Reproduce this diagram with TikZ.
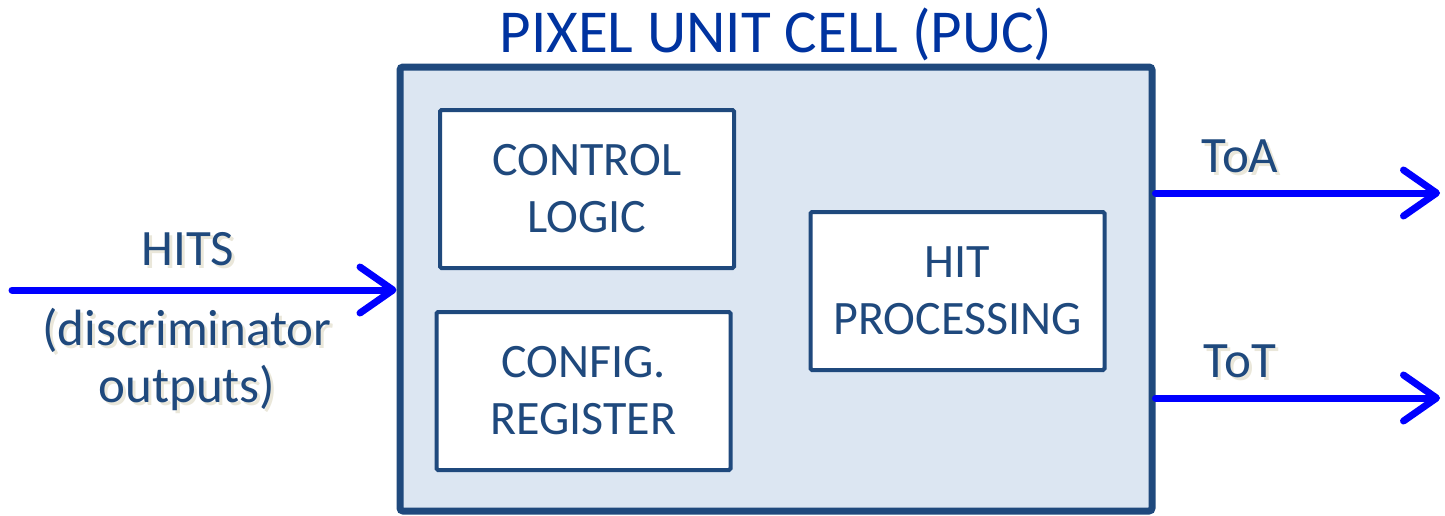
\documentclass[tikz,border=0pt]{standalone}
\usepackage{fontspec}
\setmainfont{Carlito}
\usepackage{xcolor}
\usetikzlibrary{arrows.meta}
\definecolor{pucline}{RGB}{31,73,125}
\definecolor{pucfill}{RGB}{220,230,242}
\definecolor{titleblue}{RGB}{0,51,160}
\definecolor{sigblue}{RGB}{0,0,255}
\definecolor{shadowcol}{RGB}{234,231,218}
\newcommand\shtext[1]{\leavevmode\rlap{\kern3pt\raisebox{-3pt}{\color{shadowcol}#1}}#1}

\begin{document}
\begin{tikzpicture}[x=1pt,y=-1pt,
	blockbox/.style={draw=pucline,line width=4pt,fill=white,rounded corners=1.5pt,
		minimum width=294pt,minimum height=158pt,align=center,text=pucline,
		font=\fontsize{48}{57}\selectfont},
	sig/.style={draw=sigblue,line width=7pt,line cap=round,
		-{Straight Barb[length=33pt,width=46pt,line cap=round,line join=round]}},
	lbl/.style={text=pucline,align=center,font=\fontsize{51}{57}\selectfont}]
	\useasboundingbox (0,0) rectangle (1445,515);
	\node[draw=pucline,fill=pucfill,line width=7pt,rounded corners=3pt,
		minimum width=752pt,minimum height=444pt] (puc) at (776,289) {};
	\node[anchor=base,text=titleblue,font=\fontsize{61}{64}\selectfont] (title) at (776,52) {PIXEL UNIT CELL (PUC)};
	\node[blockbox] (ctrl) at (587,189) {CONTROL\\LOGIC};
	\node[blockbox] (cfg) at (583.5,391) {CONFIG.\\REGISTER};
	\node[blockbox] (hitp) at (957.5,291) {HIT\\PROCESSING};
	% signals
	\coordinate (hin) at (12,290);
	\coordinate (toa) at (1440,193);
	\coordinate (tot) at (1440,398);
	\draw[sig] (hin) -- (hin -| puc.west);
	\draw[sig] (puc.east |- toa) -- (toa);
	\draw[sig] (puc.east |- tot) -- (tot);
	\node[lbl,anchor=base] (hits) at (188,265) {\shtext{HITS}};
	\node[lbl,anchor=base] (disc) at (187,402) {\shtext{(discriminator}\\\shtext{outputs)}};
	\node[lbl,anchor=base] (toalbl) at (1240,172) {\shtext{ToA}};
	\node[lbl,anchor=base] (totlbl) at (1240,377) {\shtext{ToT}};
\end{tikzpicture}
\end{document}
